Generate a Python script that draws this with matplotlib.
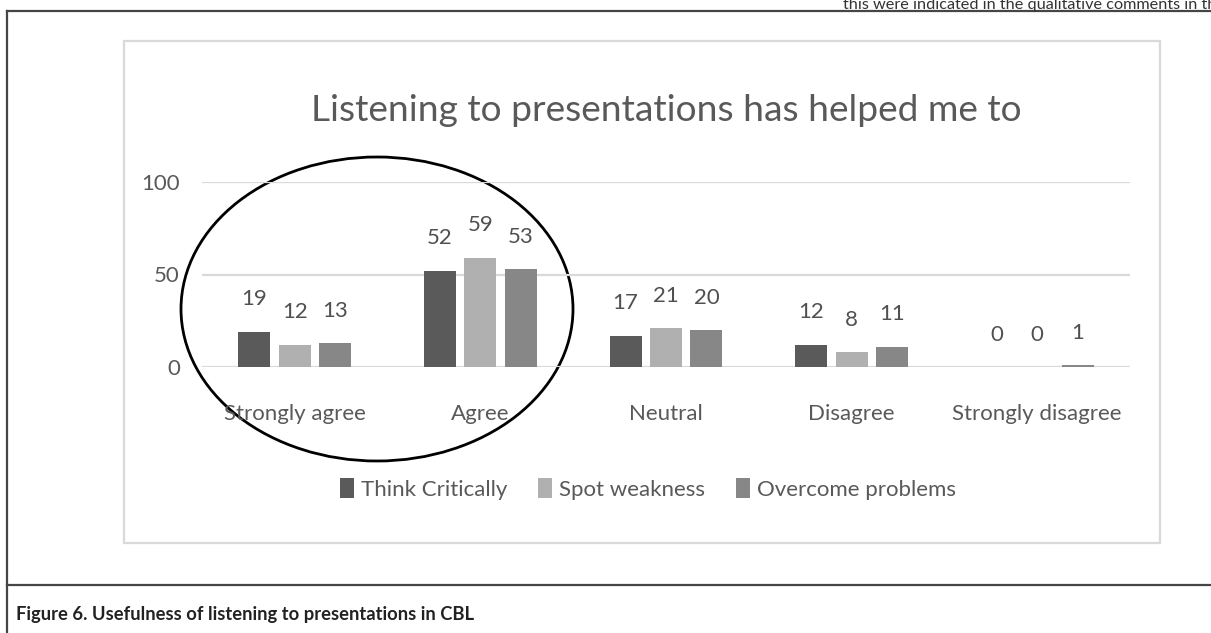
import matplotlib
matplotlib.use("Agg")
import matplotlib.pyplot as plt
import numpy as np
from matplotlib.patches import Ellipse, Rectangle

plt.rcParams["font.family"] = ["Lato", "DejaVu Sans"]

categories = ["Strongly agree", "Agree", "Neutral", "Disagree", "Strongly disagree"]
series_names = ["Think Critically", "Spot weakness", "Overcome problems"]
think_critically = [19, 52, 17, 12, 0]
spot_weakness = [12, 59, 21, 8, 0]
overcome_problems = [13, 53, 20, 11, 1]
yticks = [0, 50, 100]

title = "Listening to presentations has helped me to"
caption = "Figure 6. Usefulness of listening to presentations in CBL"
top_text = "this were indicated in the qualitative comments in the"

colors = ["#5a5a5a", "#b0b0b0", "#878787"]
text_col = "#595959"
W, H = 1211, 633

fig = plt.figure(figsize=(W / 100, H / 100), dpi=100)

# pixel canvas for page decorations
canvas = fig.add_axes([0, 0, 1, 1])
canvas.set_xlim(0, W)
canvas.set_ylim(H, 0)
canvas.axis("off")

frame = "#454545"
canvas.plot([7, W], [11, 11], color=frame, lw=1.6)
canvas.plot([7, 7], [11, H], color=frame, lw=1.6)
canvas.plot([7, W], [585, 585], color=frame, lw=1.6)
canvas.add_patch(Rectangle((124, 41), 1036, 502, fill=False,
                           edgecolor="#d9d9d9", lw=1.6))
canvas.text(843, 9, top_text, fontsize=11.7, color="#333333",
            va="baseline", ha="left")
canvas.text(16, 620, caption, fontsize=13.2, fontweight="bold",
            color="#222222", va="baseline", ha="left")

# chart
ax = fig.add_axes([202 / W, 1 - 367 / H, 928 / W, 185 / H])
x = np.arange(len(categories))
step, width = 0.218, 0.172
for i, (vals, name) in enumerate(zip([think_critically, spot_weakness, overcome_problems], series_names)):
    ax.bar(x + (i - 1) * step, vals, width, color=colors[i], label=name, zorder=3)
    for xi, v in zip(x + (i - 1) * step, vals):
        ax.annotate(str(v), (xi, v), xytext=(0, 19), textcoords="offset points",
                    ha="center", va="baseline", fontsize=16, color="#505050",
                    annotation_clip=False)

ax.set_xlim(-0.5, len(categories) - 0.5)
ax.set_ylim(0, 100)
ax.set_yticks(yticks)
ax.set_xticks(x)
ax.set_xticklabels(categories)
ax.tick_params(axis="both", length=0, labelsize=16, labelcolor=text_col)
ax.tick_params(axis="x", pad=27)
ax.tick_params(axis="y", pad=16)
ax.grid(axis="y", color="#d9d9d9", lw=1.6, zorder=0)
for s in ax.spines.values():
    s.set_visible(False)
ax.set_facecolor("none")
ax.set_title(title, fontsize=26.7, color=text_col, pad=44)

ax.legend(loc="center", bbox_to_anchor=(648 / W, 1 - 489 / H),
          bbox_transform=fig.transFigure, ncol=3, frameon=False,
          fontsize=16, labelcolor=text_col, handlelength=0.62,
          handleheight=1.0, handletextpad=0.32, columnspacing=1.4)

# circled region
canvas.add_patch(Ellipse((377, 309), 392, 304, fill=False,
                         edgecolor="black", lw=2.0, zorder=10))

fig.savefig("out.png", dpi=100)
